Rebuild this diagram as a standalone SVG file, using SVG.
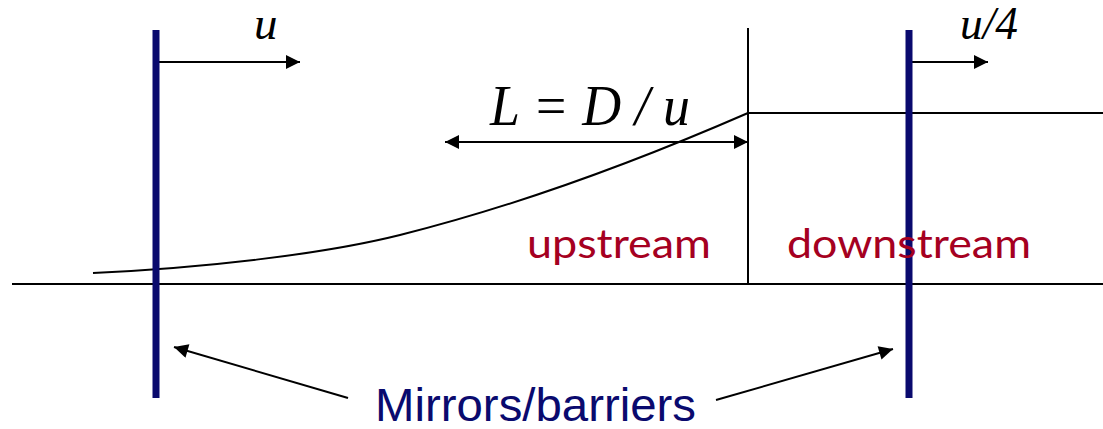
<svg xmlns="http://www.w3.org/2000/svg" width="1103" height="429" viewBox="0 0 1103 429">
<style>
.ln{stroke:#000;stroke-width:2;fill:none}
.bar{stroke:#0a0a6e;stroke-width:7}
.it{font-family:"Liberation Serif",serif;font-style:italic;fill:#000}
.red{font-family:Lato,"Open Sans",sans-serif;fill:#a50021;font-size:40px}
.navy{font-family:"Liberation Sans Narrow","Liberation Sans",sans-serif;fill:#0a0a6e;font-size:47px}
</style>
<defs>
<marker id="ah2" viewBox="0 0 10 10" refX="10" refY="5" markerWidth="16" markerHeight="14" markerUnits="userSpaceOnUse" orient="auto-start-reverse">
<path d="M0,0 L10,5 L0,10 z" fill="#000"/>
</marker>
</defs>
<g id="axes">
<line class="ln" x1="12" y1="284" x2="1103" y2="284"/>
<line class="ln" x1="748" y1="28" x2="748" y2="284"/>
<line class="ln" x1="748" y1="113" x2="1103" y2="113"/>
<path class="ln" d="M93,273 C200,268 320,255 400,235 C520,205 640,160 748,113"/>
</g>
<g id="connectors">
<line class="ln" x1="158" y1="62" x2="300" y2="62" marker-end="url(#ah2)"/>
<line class="ln" x1="912" y1="62" x2="988" y2="62" marker-end="url(#ah2)"/>
<line class="ln" x1="445" y1="142" x2="748" y2="142" marker-start="url(#ah2)" marker-end="url(#ah2)"/>
<line class="ln" x1="348" y1="398" x2="174" y2="347" marker-end="url(#ah2)"/>
<line class="ln" x1="716" y1="400" x2="893" y2="349" marker-end="url(#ah2)"/>
</g>
<g id="mirror-left"><line class="bar" x1="156" y1="30" x2="156" y2="398"/></g>
<g id="mirror-right"><line class="bar" x1="909" y1="30" x2="909" y2="398"/></g>
<g id="labels">
<text class="it" x="254" y="39" font-size="47">u</text>
<text class="it" x="960" y="39" font-size="46" textLength="58" lengthAdjust="spacingAndGlyphs">u/4</text>
<text class="it" x="490" y="125" font-size="58" textLength="200" lengthAdjust="spacingAndGlyphs">L = D / u</text>
<text class="red" x="527" y="258" textLength="184" lengthAdjust="spacingAndGlyphs">upstream</text>
<text class="red" x="787" y="258" textLength="244" lengthAdjust="spacingAndGlyphs">downstream</text>
<text class="navy" x="375" y="421" textLength="321" lengthAdjust="spacingAndGlyphs">Mirrors/barriers</text>
</g>
</svg>
